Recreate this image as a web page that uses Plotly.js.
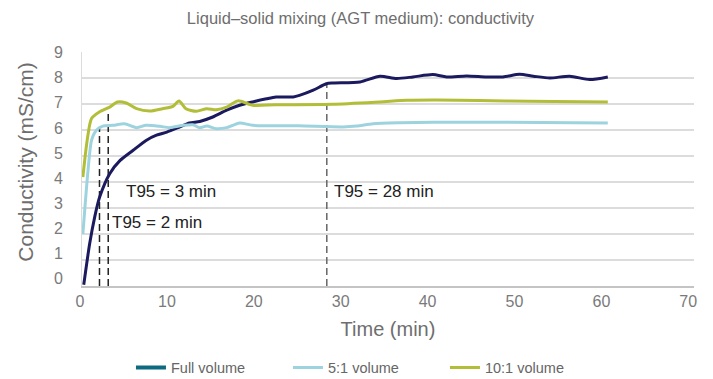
<!DOCTYPE html>
<html>
<head>
<meta charset="utf-8">
<script src="https://cdn.plot.ly/plotly-3.0.1.min.js"></script>
<style>
  html, body { margin: 0; padding: 0; background: #fff; }
  #chart { width: 713px; height: 379px; }
</style>
</head>
<body>
<div id="chart"></div>
<script>
// Conductivity readings (mS/cm) against time (min) for three fill volumes
const fullTime = [0.2, 0.88, 1.45, 2.02, 3.17, 4.36, 5.85, 7.33, 8.52, 9.71, 11.2, 12.29, 13.47, 14.96, 16.55, 18.03, 19.52, 21.1, 22.19, 24.17, 24.87, 26.45, 27.94, 28.73, 31.8, 34.08, 35.97, 37.85, 40.13, 41.71, 43.99, 46.27, 48.15, 50.04, 51.62, 53.5, 55.78, 58.06, 60.14];
const fullCond = [0.05, 1.63, 2.65, 3.42, 4.32, 4.83, 5.22, 5.6, 5.8, 5.92, 6.12, 6.27, 6.33, 6.5, 6.76, 6.95, 7.08, 7.2, 7.27, 7.27, 7.33, 7.53, 7.78, 7.81, 7.85, 8.07, 7.98, 8.04, 8.13, 8.04, 8.08, 8.04, 8.04, 8.14, 8.07, 8.0, 8.07, 7.94, 8.04];

const fiveTime = [0.1, 0.69, 1.09, 1.64, 2.38, 3.57, 4.86, 6.24, 7.33, 8.92, 10.0, 11.59, 12.68, 13.47, 14.27, 15.36, 16.55, 18.03, 19.52, 24.77, 29.82, 31.41, 33.29, 36.26, 40.13, 47.76, 60.14];
const fiveCond = [2.0, 4.45, 5.6, 5.99, 6.15, 6.18, 6.24, 6.09, 6.18, 6.14, 6.09, 6.18, 6.2, 6.09, 6.15, 6.05, 6.09, 6.27, 6.18, 6.16, 6.12, 6.15, 6.24, 6.28, 6.3, 6.3, 6.27];

const tenTime = [0.1, 0.59, 1.09, 1.98, 3.17, 4.06, 5.05, 6.24, 7.73, 9.21, 10.4, 11.1, 11.89, 13.08, 14.27, 15.36, 16.55, 17.83, 19.52, 22.19, 28.63, 34.08, 37.16, 40.52, 45.48, 51.12, 60.14];
const tenCond = [4.19, 5.6, 6.44, 6.69, 6.88, 7.08, 7.04, 6.82, 6.73, 6.82, 6.91, 7.12, 6.82, 6.72, 6.82, 6.78, 6.88, 7.12, 6.95, 6.97, 6.99, 7.08, 7.14, 7.15, 7.13, 7.11, 7.08];

// T95 markers: time, height of the guide line, label
const t95Times = [2, 3, 28];
const t95Levels = [6.1, 6.65, 7.78];
const t95Labels = ['T95 = 2 min', 'T95 = 3 min', 'T95 = 28 min'];

const seriesNames = ['Full volume', '5:1 volume', '10:1 volume'];
const xTicks = [0, 10, 20, 30, 40, 50, 60, 70];
const yTicks = [0, 1, 2, 3, 4, 5, 6, 7, 8, 9];

const FONT = 'Liberation Sans, Arial, sans-serif';
const NAVY = '#1c1a5e';
const TEAL = '#0d6a80';
const SKY = '#9dd3df';
const OLIVE = '#b2be38';

const guideColors = ['#222222', '#222222', '#666666'];
const labelPos = [[3.2, 2.44], [4.85, 3.62], [28.55, 3.62]];

const traces = [];

// dashed T95 guides
t95Times.forEach((t, i) => {
  traces.push({
    x: [t, t], y: [0, t95Levels[i]],
    mode: 'lines', showlegend: false, hoverinfo: 'skip',
    line: {color: guideColors[i], width: 1.5, dash: '7px,4px'}
  });
});

// curves
traces.push({
  x: fullTime, y: fullCond, mode: 'lines', name: seriesNames[0], showlegend: false,
  line: {color: NAVY, width: 3, shape: 'spline', smoothing: 0.7}
});
traces.push({
  x: [null], y: [null], mode: 'lines', name: seriesNames[0],
  line: {color: TEAL, width: 4}
});
traces.push({
  x: fiveTime, y: fiveCond, mode: 'lines', name: seriesNames[1],
  line: {color: SKY, width: 3, shape: 'spline', smoothing: 0.7}
});
traces.push({
  x: tenTime, y: tenCond, mode: 'lines', name: seriesNames[2],
  line: {color: OLIVE, width: 3, shape: 'spline', smoothing: 0.7}
});
// carrier for the tick-label axes
traces.push({
  x: [null], y: [null], xaxis: 'x2', yaxis: 'y2', mode: 'lines',
  showlegend: false, hoverinfo: 'skip'
});

const annotations = t95Labels.map((txt, i) => ({
  x: labelPos[i][0], y: labelPos[i][1], xref: 'x', yref: 'y',
  text: txt, showarrow: false, xanchor: 'left', yanchor: 'middle',
  font: {family: FONT, size: 17, color: '#222222'}
}));
annotations.push({
  x: -0.092, y: 0.53, xref: 'paper', yref: 'paper',
  text: 'Conductivity (mS/cm)', textangle: -90, showarrow: false,
  xanchor: 'center', yanchor: 'middle',
  font: {family: FONT, size: 21, color: '#6e6e6e'}
});

const layout = {
  width: 713, height: 379,
  margin: {l: 82, r: 19, t: 52, b: 93, pad: 0, autoexpand: false},
  paper_bgcolor: '#ffffff', plot_bgcolor: '#ffffff',
  font: {family: FONT, color: '#6e6e6e'},
  title: {
    text: 'Liquid–solid mixing (AGT medium): conductivity',
    font: {family: FONT, size: 16.5, color: '#6e6e6e'},
    x: 0.5056, xanchor: 'center', y: 0.952, yanchor: 'middle'
  },
  xaxis: {
    range: [0, 70], showgrid: false, zeroline: false,
    showline: true, linecolor: '#c4c4c4', linewidth: 2,
    showticklabels: false, ticks: '', fixedrange: true
  },
  yaxis: {
    range: [0, 9], tickvals: yTicks, showgrid: true, gridcolor: '#dcdcdc', gridwidth: 1.5,
    zeroline: false, showline: true, linecolor: '#dcdcdc', linewidth: 1.5,
    showticklabels: false, ticks: '', fixedrange: true
  },
  xaxis2: {
    overlaying: 'x', anchor: 'y', side: 'bottom',
    range: [0, 70.43], tickvals: xTicks, ticktext: xTicks.map(String),
    showgrid: false, zeroline: false, showline: false, ticks: '',
    ticklabelstandoff: 4, ticklabelshift: -2,
    tickfont: {family: FONT, size: 16, color: '#7a7a7a'},
    title: {text: 'Time (min)', font: {family: FONT, size: 20, color: '#6e6e6e'}, standoff: 12},
    fixedrange: true
  },
  yaxis2: {
    overlaying: 'y', anchor: 'x', side: 'left',
    range: [-0.306, 9.028], tickvals: yTicks, ticktext: yTicks.map(String),
    showgrid: false, zeroline: false, showline: false, ticks: '',
    ticklabelstandoff: 18,
    tickfont: {family: FONT, size: 16, color: '#7a7a7a'},
    fixedrange: true
  },
  showlegend: true,
  legend: {
    orientation: 'h', x: 0.08, xanchor: 'left',
    yref: 'container', y: 0.03, yanchor: 'middle',
    entrywidth: 112, entrywidthmode: 'pixels',
    font: {family: FONT, size: 14.5, color: '#666666'},
    bgcolor: 'rgba(0,0,0,0)', borderwidth: 0
  },
  annotations: annotations
};

Plotly.newPlot('chart', traces, layout, {displayModeBar: false, staticPlot: true});
</script>
</body>
</html>
